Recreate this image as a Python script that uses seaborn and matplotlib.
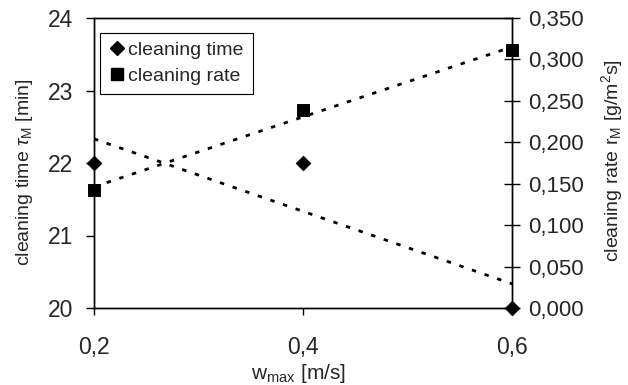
import numpy as np
import pandas as pd
import matplotlib
matplotlib.use("Agg")
import matplotlib.pyplot as plt
import seaborn as sns
from matplotlib.lines import Line2D

sns.set_theme(style="white")
plt.rcParams['font.family'] = ['Liberation Sans', 'DejaVu Sans']
plt.rcParams['mathtext.fontset'] = 'custom'
plt.rcParams['mathtext.rm'] = 'Liberation Sans'
plt.rcParams['mathtext.it'] = 'Liberation Sans:italic'

w_max = [0.2, 0.4, 0.6]
cleaning_time = [22.0, 22.0, 20.0]
cleaning_rate = [0.142, 0.239, 0.311]

x_ticks = [0.2, 0.4, 0.6]
x_labels = ["0,2", "0,4", "0,6"]
y1_ticks = [20, 21, 22, 23, 24]
y2_ticks = [0.0, 0.05, 0.1, 0.15, 0.2, 0.25, 0.3, 0.35]
y2_labels = ["0,000", "0,050", "0,100", "0,150", "0,200", "0,250", "0,300", "0,350"]

df = pd.DataFrame({"w": w_max, "t": cleaning_time, "r": cleaning_rate})

fig = plt.figure(figsize=(6.28, 3.85), dpi=100)
ax1 = fig.add_axes([94/628, 1-308/385, (512-94)/628, (308-18)/385])
ax2 = ax1.twinx()

dot = (0, (1.6, 3.2))
sns.regplot(data=df, x="w", y="t", ax=ax1, scatter=False, ci=None, truncate=True,
            line_kws=dict(color="black", lw=2, linestyle=dot))
sns.scatterplot(data=df, x="w", y="t", ax=ax1, marker="D", s=55, color="black",
                edgecolor="black", clip_on=False, zorder=5)
sns.regplot(data=df, x="w", y="r", ax=ax2, scatter=False, ci=None, truncate=True,
            line_kws=dict(color="black", lw=2, linestyle=dot))
sns.scatterplot(data=df, x="w", y="r", ax=ax2, marker="s", s=75, color="black",
                edgecolor="black", clip_on=False, zorder=5)

ax1.set_xlim(0.2, 0.6)
ax1.set_ylim(20, 24)
ax2.set_ylim(0, 0.35)
ax1.set_xticks(x_ticks, x_labels)
ax1.set_yticks(y1_ticks, [str(v) for v in y1_ticks])
ax2.set_yticks(y2_ticks, y2_labels)

for ax in (ax1, ax2):
    for s in ax.spines.values():
        s.set_color("black")
        s.set_linewidth(1)

ax1.tick_params(axis="x", direction="out", length=5, width=1, color="black",
                labelsize=16.5, pad=15, bottom=True)
ax1.tick_params(axis="y", direction="out", length=6, width=1, color="black",
                labelsize=16.5, pad=9, left=True)
ax2.tick_params(axis="y", direction="inout", length=11, width=1, color="black",
                labelsize=16, pad=6, right=True)

ax1.set_xlabel("w$_\\mathrm{max}$ [m/s]", fontsize=15)
ax1.set_ylabel("cleaning time $\\tau_\\mathrm{M}$ [min]", fontsize=14)
ax2.set_ylabel("cleaning rate r$_\\mathrm{M}$ [g/m$^2$s]", fontsize=14)
ax1.xaxis.set_label_coords(0.488, -0.185)
ax1.yaxis.set_label_coords(-0.14, 0.47)
ax2.yaxis.set_label_coords(1.208, 0.51)

handles = [Line2D([], [], marker="D", color="black", linestyle="none", markersize=7),
           Line2D([], [], marker="s", color="black", linestyle="none", markersize=8.5)]
leg = ax2.legend(handles, ["cleaning time", "cleaning rate"], loc="upper left",
                 bbox_to_anchor=(0.015, 0.95), fontsize=14, frameon=True, fancybox=False,
                 handlelength=0.8, handletextpad=0.2, borderpad=0.45, labelspacing=0.45,
                 borderaxespad=0.0, edgecolor="black", framealpha=1)
leg.get_frame().set_linewidth(0.8)

fig.savefig("out.png", dpi=100)
